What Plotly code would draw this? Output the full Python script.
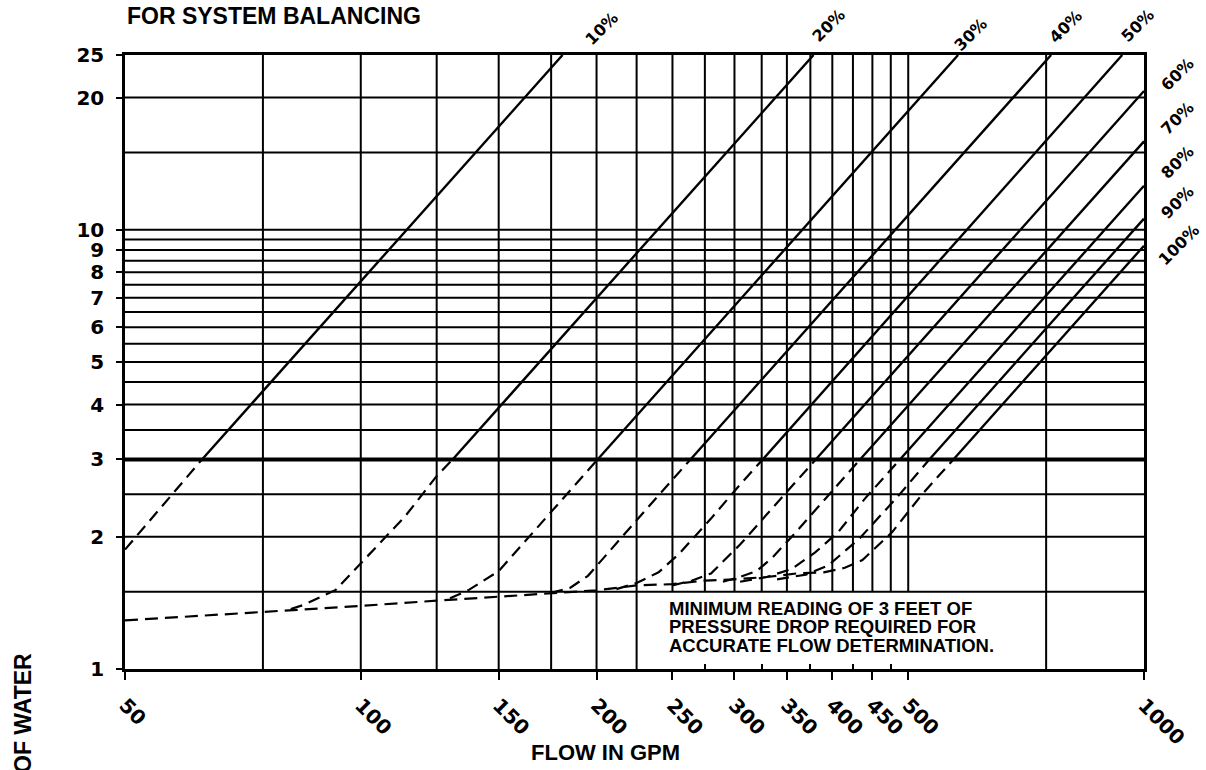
import math
import plotly.graph_objects as go

# ---------------- data ----------------
x_tick_vals = [50, 100, 150, 200, 250, 300, 350, 400, 450, 500, 1000]
x_tick_text = ["50", "100", "150", "200", "250", "300", "350", "400", "450", "500", "1000"]
x_minor_ticks = [275, 325, 375, 425, 475]
y_tick_vals = [1, 2, 3, 4, 5, 6, 7, 8, 9, 10, 20, 25]
y_tick_text = ["1", "2", "3", "4", "5", "6", "7", "8", "9", "10", "20", "25"]

x_grid_full = [75, 100, 125, 150, 175, 200, 225, 750]
x_grid_short = [250, 275, 300, 325, 350, 375, 400, 425, 450, 475, 500]
y_grid = [1.5, 2, 2.5, 3.5, 4, 4.5, 5, 5.5, 6, 6.5, 7, 7.5, 8, 8.5, 9, 9.5, 10, 15, 20]
y_grid_heavy = [3]
short_grid_floor = 1.5
x_min, x_max = 50, 1000
y_min, y_max = 1, 25

pct_labels = ["10%", "20%", "30%", "40%", "50%", "60%", "70%", "80%", "90%", "100%"]
# solid part (above 3 ft): from (q3, 3) to (q_end, p_end)
solid_q3 = [62.7, 131, 200.6, 263.6, 326, 381, 434, 488, 532, 571]
solid_p3 = [3, 3, 3, 3, 3, 3, 3, 3, 3, 3]
solid_q_end = [181, 378.5, 579, 761, 938, 1000, 1000, 1000, 1000, 1000]
solid_p_end = [25, 25, 25, 25, 25, 20.7, 15.9, 12.6, 10.6, 9.2]

# dashed part (below 3 ft)
dashed_q = [
    [50, 62.7],
    [81.4, 84.6, 92.9, 100, 113.9, 124.9, 131],
    [130, 137.4, 150, 160, 175, 200.6],
    [175, 185, 195, 210, 230, 263.6],
    [212, 225, 240, 255, 280, 305, 326],
    [250, 265, 280, 305, 330, 355, 381],
    [290, 305, 320, 335, 355, 385, 410, 434],
    [305, 330, 355, 380, 407, 440, 488],
    [340, 370, 395, 433, 483, 532],
    [390, 415, 437, 477, 520, 571],
]
dashed_p = [
    [1.87, 3],
    [1.37, 1.40, 1.514, 1.742, 2.225, 2.745, 3],
    [1.449, 1.514, 1.67, 1.9, 2.28, 3],
    [1.49, 1.53, 1.63, 1.9, 2.28, 3],
    [1.52, 1.57, 1.66, 1.83, 2.2, 2.63, 3],
    [1.55, 1.59, 1.65, 1.92, 2.25, 2.6, 3],
    [1.58, 1.62, 1.67, 1.79, 2.0, 2.36, 2.68, 3],
    [1.58, 1.62, 1.69, 1.84, 2.05, 2.44, 3],
    [1.6, 1.64, 1.72, 1.98, 2.45, 3],
    [1.66, 1.7, 1.77, 2.05, 2.49, 3],
]
floor_q = [50, 75, 100, 125, 150, 175, 200, 225, 250, 275, 300, 330, 360, 390]
floor_p = [1.29, 1.347, 1.392, 1.431, 1.46, 1.488, 1.51, 1.55, 1.56, 1.59, 1.6, 1.62, 1.65, 1.66]

# ---------------- figure ----------------
W, H = 1206, 770
L, T = 125, 55
pw, ph = 1019, 614
R, B = W - L - pw, H - T - ph


def px(xp):
    return (xp - L) / pw


def py(yp):
    return (T + ph - yp) / ph


fig = go.Figure()
BLACK = "#000000"
FONT_NUM = "DejaVu Sans"
FONT_TXT = "Liberation Sans, Arial, sans-serif"


def seg_trace(xs, ys, width, dash="solid"):
    return go.Scatter(x=xs, y=ys, mode="lines", hoverinfo="skip", showlegend=False,
                      line=dict(color=BLACK, width=width, dash=dash))


# vertical grid lines (full height)
gx, gy = [], []
for v in x_grid_full:
    gx += [v, v, None]
    gy += [y_min, y_max, None]
# vertical grid lines (stopping at 1.5 ft)
for v in x_grid_short:
    gx += [v, v, None]
    gy += [short_grid_floor, y_max, None]
# horizontal grid lines
for v in y_grid:
    gx += [x_min, x_max, None]
    gy += [v, v, None]
fig.add_trace(seg_trace(gx, gy, 2))

hx, hy = [], []
for v in y_grid_heavy:
    hx += [x_min, x_max, None]
    hy += [v, v, None]
fig.add_trace(seg_trace(hx, hy, 4))

# floor dashed line
fig.add_trace(seg_trace(floor_q, floor_p, 2.2, dash="13px,7px"))

# valve curves
for i in range(len(pct_labels)):
    fig.add_trace(seg_trace(dashed_q[i], dashed_p[i], 2.2, dash="12px,7px"))
    fig.add_trace(seg_trace([solid_q3[i], solid_q_end[i]], [solid_p3[i], solid_p_end[i]], 2.4))

fig.update_xaxes(
    type="log", range=[math.log10(x_min), math.log10(x_max)],
    tickmode="array", tickvals=x_tick_vals, ticktext=x_tick_text, tickangle=45,
    ticks="outside", ticklen=8, tickwidth=2, tickcolor=BLACK,
    tickfont=dict(family=FONT_NUM, size=20, color=BLACK, weight="bold"),
    ticklabelstandoff=6,
    minor=dict(tickmode="array", tickvals=x_minor_ticks, ticks="inside", ticklen=5,
               tickwidth=2, tickcolor=BLACK, showgrid=False),
    showgrid=False, zeroline=False,
    showline=True, linewidth=2.5, linecolor=BLACK, mirror=True,
)
fig.update_yaxes(
    type="log", range=[math.log10(y_min), math.log10(y_max)],
    tickmode="array", tickvals=y_tick_vals, ticktext=y_tick_text,
    ticks="outside", ticklen=6, tickwidth=2, tickcolor=BLACK,
    tickfont=dict(family=FONT_NUM, size=20, color=BLACK, weight="bold"),
    ticklabelstandoff=8,
    showgrid=False, zeroline=False,
    showline=True, linewidth=2.5, linecolor=BLACK, mirror=True,
)

annots = []
# percentage labels (page pixel centres)
label_pos = [(602, 29), (829, 26), (971, 35), (1066, 27), (1138, 26),
             (1177, 74), (1177, 118), (1177, 162), (1177, 202), (1178, 245)]
for lab, (ax_, ay_) in zip(pct_labels, label_pos):
    annots.append(dict(text=lab, x=px(ax_), y=py(ay_), xref="paper", yref="paper",
                       showarrow=False, textangle=-45, xanchor="center", yanchor="middle",
                       font=dict(family=FONT_NUM, size=16, color=BLACK, weight="bold")))

annots.append(dict(text="FOR SYSTEM BALANCING", x=px(125), y=py(16), xref="paper", yref="paper",
                   showarrow=False, xanchor="left", yanchor="middle",
                   font=dict(family=FONT_TXT, size=23, color=BLACK, weight="bold")))
annots.append(dict(text="FLOW IN GPM", x=px(605), y=py(752), xref="paper", yref="paper",
                   showarrow=False, xanchor="center", yanchor="middle",
                   font=dict(family=FONT_TXT, size=22, color=BLACK, weight="bold")))
annots.append(dict(text="OF WATER", x=px(23), y=py(713), xref="paper", yref="paper",
                   showarrow=False, textangle=-90, xanchor="center", yanchor="middle",
                   font=dict(family=FONT_TXT, size=23, color=BLACK, weight="bold")))
note_lines = ["MINIMUM READING OF 3 FEET OF", "PRESSURE DROP REQUIRED FOR",
              "ACCURATE FLOW DETERMINATION."]
for k, line in enumerate(note_lines):
    annots.append(dict(text=line, x=px(667), y=py(608 + 18.5 * k), xref="paper", yref="paper",
                       showarrow=False, xanchor="left", yanchor="middle",
                       font=dict(family=FONT_TXT, size=18.5, color=BLACK, weight="bold")))

fig.update_layout(
    width=W, height=H, autosize=False,
    margin=dict(l=L, r=R, t=T, b=B, pad=0),
    paper_bgcolor="white", plot_bgcolor="white",
    showlegend=False, annotations=annots,
)

# remove the browser's default 8px page margin so the figure fills the window exactly
fig.write_html("out.html", config={"displayModeBar": False},
               post_script="document.body.style.margin='0';document.body.style.overflow='hidden';")
